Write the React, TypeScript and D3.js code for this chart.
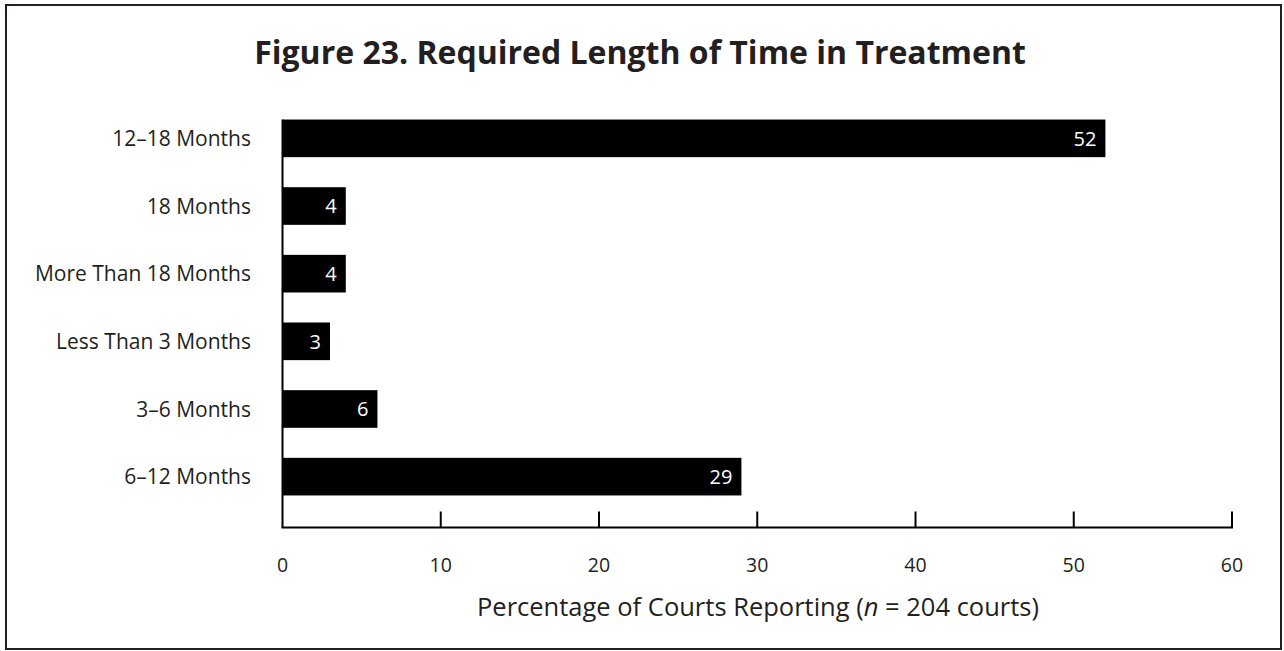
import React from "react";
import * as d3 from "d3";

const categories = [
  "12–18 Months",
  "18 Months",
  "More Than 18 Months",
  "Less Than 3 Months",
  "3–6 Months",
  "6–12 Months",
];
const values = [52, 4, 4, 3, 6, 29];
const xTicks = [0, 10, 20, 30, 40, 50, 60];
const title = "Figure 23. Required Length of Time in Treatment";
const axisTitlePrefix = "Percentage of Courts Reporting (";
const axisTitleItalic = "n";
const axisTitleSuffix = " = 204 courts)";

const W = 1284;
const H = 651;
const FONT = "'Open Sans', Lato, sans-serif";
const TEXT = "#231f20";

export default function App() {
  const x = d3.scaleLinear().domain([0, 60]).range([282.5, 1232]);
  const y = d3
    .scaleBand<string>()
    .domain(categories)
    .range([89.5, 525.5])
    .padding(0.444);
  const axisY = 527.5;
  const firstTop = y(categories[0]) as number;

  return (
    <svg
      width={W}
      height={H}
      style={{ position: "absolute", left: 0, top: 0, background: "#fff" }}
    >
      <rect x={0} y={0} width={W} height={H} fill="#fff" />
      <rect
        x={6}
        y={5}
        width={1275}
        height={644}
        fill="none"
        stroke="#231f20"
        strokeWidth={2}
      />
      <text
        x={640}
        y={64}
        textAnchor="middle"
        fontFamily={FONT}
        fontWeight={700}
        fontSize={32}
        fill={TEXT}
      >
        {title}
      </text>

      {categories.map((c, i) => {
        const yy = y(c) as number;
        const bw = y.bandwidth();
        const x1 = x(values[i]);
        return (
          <g key={c}>
            <rect
              x={x(0)}
              y={yy}
              width={x1 - x(0)}
              height={bw}
              fill="#000"
            />
            <text
              x={251}
              y={yy + bw / 2}
              dy="0.36em"
              textAnchor="end"
              fontFamily={FONT}
              fontSize={21}
              fill={TEXT}
            >
              {c}
            </text>
            <text
              x={x1 - 9}
              y={yy + bw / 2}
              dy="0.36em"
              textAnchor="end"
              fontFamily={FONT}
              fontSize={20}
              fill="#fff"
            >
              {values[i]}
            </text>
          </g>
        );
      })}

      <line
        x1={x(0)}
        x2={x(0)}
        y1={firstTop}
        y2={axisY}
        stroke="#000"
        strokeWidth={2}
      />
      <line
        x1={x(0) - 1}
        x2={x(60) + 1}
        y1={axisY}
        y2={axisY}
        stroke="#000"
        strokeWidth={2}
      />
      {xTicks.map((t) => (
        <g key={t}>
          {t > 0 && (
            <line
              x1={x(t)}
              x2={x(t)}
              y1={axisY - 16}
              y2={axisY}
              stroke="#000"
              strokeWidth={2}
            />
          )}
          <text
            x={x(t)}
            y={572}
            textAnchor="middle"
            fontFamily={FONT}
            fontSize={19.5}
            fill={TEXT}
          >
            {t}
          </text>
        </g>
      ))}
      <text
        x={758}
        y={616}
        textAnchor="middle"
        fontFamily={FONT}
        fontSize={25.5}
        fill={TEXT}
      >
        {axisTitlePrefix}
        <tspan fontStyle="italic">{axisTitleItalic}</tspan>
        {axisTitleSuffix}
      </text>
    </svg>
  );
}
